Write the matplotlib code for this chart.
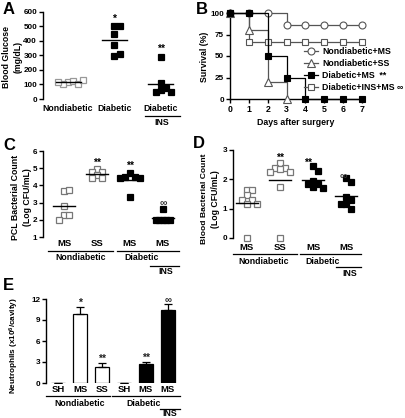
import numpy as np
import matplotlib
matplotlib.use("Agg")
import matplotlib.pyplot as plt
from matplotlib import transforms
from matplotlib.lines import Line2D

plt.rcParams['font.family'] = ['Liberation Sans', 'DejaVu Sans']
plt.rcParams['font.weight'] = 'bold'
plt.rcParams['mathtext.fontset'] = 'custom'
plt.rcParams['mathtext.rm'] = 'Liberation Sans:bold'
plt.rcParams['mathtext.bf'] = 'Liberation Sans:bold'
plt.rcParams['mathtext.it'] = 'Liberation Sans:bold'

# ---------------- data ----------------
# A: blood glucose (mg/dL)
A_groups = ["Nondiabetic", "Diabetic", "Diabetic"]
A_nd = [115, 125, 105, 100, 120, 130]
A_d = [500, 500, 450, 370, 295, 310]
A_ins = [290, 110, 65, 75, 45, 50]

# B: survival (%)
B_days = [0, 1, 2, 3, 4, 5, 6, 7]
B_nd_ms = [100, 100, 100, 85.7, 85.7, 85.7, 85.7, 85.7]
B_nd_ss_days = [0, 1, 2, 3]
B_nd_ss = [100, 80, 20, 0]
B_d_ms = [100, 100, 50, 25, 0, 0, 0, 0]
B_d_ins = [100, 66.7, 66.7, 66.7, 66.7, 66.7, 66.7, 66.7]
B_labels = ["Nondiabetic+MS", "Nondiabetic+SS", "Diabetic+MS  **", "Diabetic+INS+MS \u221e"]

# C: PCL bacterial count (log CFU/mL)
C_ticks = ["MS", "SS", "MS", "MS"]
C_nd_ms = [3.65, 3.75, 2.8, 2.3, 2.3, 2.0]
C_nd_ss = [4.93, 4.8, 4.8, 4.6, 4.42, 4.42]
C_d_ms = [4.75, 4.5, 4.5, 4.45, 4.45, 3.3]
C_ins = [2.6, 2.0, 2.0, 2.0, 2.0, 2.0]

# D: blood bacterial count (log CFU/mL)
D_ticks = ["MS", "SS", "MS", "MS"]
D_nd_ms = [1.65, 1.65, 1.45, 1.3, 1.3, 1.15, 1.15, 0]
D_nd_ss = [2.55, 2.4, 2.4, 2.35, 2.25, 2.25, 1.75, 0]
D_d_ms = [2.45, 2.3, 1.95, 1.85, 1.85, 1.75, 1.7]
D_ins = [2.05, 1.9, 1.4, 1.3, 1.15, 1.15, 1.0]

# E: neutrophils (x10^6/cavity)
E_ticks = ["SH", "MS", "SS", "SH", "MS", "MS"]
E_means = [0.05, 9.8, 2.25, 0.03, 2.75, 10.4]
E_err = [0, 1.1, 0.6, 0, 0.25, 0.9]
E_fill = ["white", "white", "white", "black", "black", "black"]
E_marks = ["", "*", "**", "", "**", "\u221e"]

# ---------------- layout helpers ----------------
W, H = 406, 418
fig = plt.figure(figsize=(W / 100, H / 100), dpi=100)
GRAY = "#777777"
FS = 6.3
TFS = 5.9


def axes_px(l, t, r, b):
    return fig.add_axes([l / W, 1 - b / H, (r - l) / W, (b - t) / H])


def fy(py):
    return 1 - py / H


def style(ax, bottom=False):
    for s in ["top", "right"]:
        ax.spines[s].set_visible(False)
    ax.spines["bottom"].set_visible(bottom)
    ax.spines["left"].set_linewidth(1.0)
    ax.tick_params(axis="y", direction="out", length=3, width=1, labelsize=TFS, pad=1.2)
    if bottom:
        ax.spines["bottom"].set_linewidth(1.0)
        ax.tick_params(axis="x", direction="out", length=3, width=1, labelsize=FS, pad=1.5)
    else:
        ax.set_xticks([])
    for lab in ax.get_yticklabels() + ax.get_xticklabels():
        lab.set_fontweight("bold")


def swarm(ax, x0, vals, thresh):
    """deterministic beeswarm offsets (data units) from value pixel positions"""
    pxx = ax.transData.transform((1, 0))[0] - ax.transData.transform((0, 0))[0]
    placed = []
    xs = []
    cands = [0.0]
    for i in range(1, 12):
        cands += [i * thresh * 0.5, -i * thresh * 0.5]
    for v in vals:
        py = ax.transData.transform((0, v))[1]
        for c in cands:
            ok = True
            for (cx, cy) in placed:
                if abs(cx - c) < thresh and abs(cy - py) < thresh:
                    ok = False
                    break
            if ok:
                placed.append((c, py))
                xs.append(x0 + c / pxx)
                break
    return xs


def dotplot(ax, x0, vals, filled, color, ms=4.2, half=0.27, thresh=5.2):
    xs = swarm(ax, x0, vals, thresh)
    ax.plot(xs, vals, "s", ms=ms, mfc=("black" if filled else "white"),
            mec=("black" if filled else color), mew=0.9, clip_on=False, zorder=3)
    m = np.mean(vals)
    ax.plot([x0 - half, x0 + half], [m, m], color="black", lw=1.0, zorder=4, clip_on=False)


def under(ax, x, py, s, fs=FS):
    tr = transforms.blended_transform_factory(ax.transData, fig.transFigure)
    ax.text(x, fy(py), s, transform=tr, ha="center", va="center", fontsize=fs,
            fontweight="bold")


def hline(ax, x1, x2, py, lw=0.9):
    tr = transforms.blended_transform_factory(ax.transData, fig.transFigure)
    ax.add_line(Line2D([x1, x2], [fy(py), fy(py)], transform=tr, color="black",
                       lw=lw, clip_on=False))


def ylab(px, py, s, fs=FS):
    fig.text(px / W, fy(py), s, rotation=90, ha="center", va="center",
             fontsize=fs, fontweight="bold")


# ---------------- Panel A ----------------
axA = axes_px(43, 12, 185, 99)
axA.set_ylim(0, 600)
axA.set_xlim(-0.54, 2.52)
axA.set_yticks(range(0, 601, 100))
style(axA)
dotplot(axA, 0, A_nd, False, "#999999", thresh=5.0)
dotplot(axA, 1, A_d, True, "black")
dotplot(axA, 2, A_ins, True, "black")
axA.text(1, max(A_d) + 50, "*", ha="center", va="center", fontsize=7.5, fontweight="bold")
axA.text(2, max(A_ins) + 55, "**", ha="center", va="center", fontsize=7.5, fontweight="bold")
for i, g in enumerate(A_groups):
    under(axA, i, 108.5, g)
hline(axA, 1.66, 2.42, 116)
under(axA, 2.02, 122.5, "INS")
ylab(7, 57, "Blood Glucose")
ylab(18, 57, "(mg/dL)")

# ---------------- Panel B ----------------
axB = axes_px(230, 13, 362, 99)
axB.set_xlim(0, 7)
axB.set_ylim(0, 100)
axB.set_yticks([0, 25, 50, 75, 100])
axB.set_xticks(B_days)
style(axB, bottom=True)
lw = 0.9
h1, = axB.step(B_days, B_nd_ms, where="post", color="#555555", lw=lw, clip_on=False,
               marker="o", ms=5, mfc="white", mec="#555555", mew=0.8, zorder=3)
h4, = axB.step(B_days, B_d_ins, where="post", color="#555555", lw=lw, clip_on=False,
               marker="s", ms=5, mfc="white", mec="#555555", mew=0.8, zorder=3)
h2, = axB.step(B_nd_ss_days, B_nd_ss, where="post", color="#555555", lw=lw, clip_on=False,
               marker="^", ms=6, mfc="white", mec="#555555", mew=0.8, zorder=3)
h3, = axB.step(B_days, B_d_ms, where="post", color="black", lw=lw, clip_on=False,
               marker="s", ms=5, mfc="black", mec="black", mew=0.8, zorder=4)
leg = axB.legend([h1, h2, h3, h4], B_labels, loc="upper left",
                 bbox_to_anchor=((304 - 230) / 132, 1 - (47 - 13) / 86),
                 frameon=False, fontsize=FS, handlelength=1.6, handletextpad=0.5,
                 labelspacing=0.35, borderpad=0, borderaxespad=0)
for t in leg.get_texts():
    t.set_fontweight("bold")
axB.set_xlabel("Days after surgery", fontsize=FS, fontweight="bold", labelpad=3)
ylab(205, 57, "Survival (%)")

# ---------------- Panel C ----------------
axC = axes_px(43, 151, 185, 237)
axC.set_ylim(1, 6)
axC.set_xlim(-0.64, 3.67)
axC.set_yticks(range(1, 7))
style(axC)
dotplot(axC, 0, C_nd_ms, False, GRAY, half=0.33)
dotplot(axC, 1, C_nd_ss, False, GRAY, half=0.33)
dotplot(axC, 2, C_d_ms, True, "black", half=0.33)
dotplot(axC, 3, C_ins, True, "black", half=0.33, thresh=3.5)
axC.text(1, 5.3, "**", ha="center", va="center", fontsize=7.5, fontweight="bold")
axC.text(2, 5.15, "**", ha="center", va="center", fontsize=7.5, fontweight="bold")
axC.text(3, 2.95, "\u221e", ha="center", va="center", fontsize=7.5, fontweight="bold", color="#333333")
for i, t in enumerate(C_ticks):
    under(axC, i, 243.5, t, fs=6.8)
hline(axC, -0.48, 1.48, 251)
hline(axC, 1.6, 3.5, 251)
under(axC, 0.5, 258, "Nondiabetic")
under(axC, 2.35, 258, "Diabetic")
hline(axC, 2.6, 3.5, 265.5)
under(axC, 3.1, 272, "INS")
ylab(16, 197, "PCL Bacterial Count")
ylab(28, 197, "(Log CFU/mL)")

# ---------------- Panel D ----------------
axD = axes_px(233, 150, 366, 238)
axD.set_ylim(0, 3)
axD.set_xlim(-0.42, 3.6)
axD.set_yticks(range(0, 4))
style(axD)
dotplot(axD, 0, D_nd_ms, False, GRAY, half=0.33)
dotplot(axD, 1, D_nd_ss, False, GRAY, half=0.33)
dotplot(axD, 2, D_d_ms, True, "black", half=0.33)
dotplot(axD, 3, D_ins, True, "black", half=0.33)
axD.text(1, 2.72, "**", ha="center", va="center", fontsize=7.5, fontweight="bold")
axD.text(1.85, 2.55, "**", ha="center", va="center", fontsize=7.5, fontweight="bold")
axD.text(2.9, 2.12, "\u221e", ha="center", va="center", fontsize=7.5, fontweight="bold", color="#333333")
for i, t in enumerate(D_ticks):
    under(axD, i, 247, t, fs=6.8)
hline(axD, -0.42, 1.5, 253.5)
hline(axD, 1.6, 3.45, 253.5)
under(axD, 0.5, 261, "Nondiabetic")
under(axD, 2.3, 261, "Diabetic")
hline(axD, 2.7, 3.45, 267)
under(axD, 3.1, 273.5, "INS")
ylab(204, 199, "Blood Bacterial Count", fs=6.1)
ylab(216, 199, "(Log CFU/mL)")

# ---------------- Panel E ----------------
axE = axes_px(46, 299, 180, 383)
axE.set_ylim(0, 12)
axE.set_xlim(-0.55, 5.55)
axE.set_yticks([0, 3, 6, 9, 12])
style(axE)
xE = np.arange(len(E_means))
axE.bar(xE, E_means, width=0.64, color=E_fill, edgecolor="black", linewidth=0.9, zorder=2)
axE.errorbar(xE, E_means, yerr=[np.zeros(len(E_err)), E_err], fmt="none",
             ecolor="black", elinewidth=0.9, capsize=3, capthick=0.9, zorder=3)
for i, m in enumerate(E_marks):
    if m:
        axE.text(i, E_means[i] + E_err[i] + 0.55, m, ha="center", va="center",
                 fontsize=7.5 if m != "\u221e" else 7, fontweight="bold", color="#222222")
for i, t in enumerate(E_ticks):
    under(axE, i, 390, t, fs=6.8)
hline(axE, -0.55, 2.35, 395.5)
hline(axE, 2.45, 5.55, 395.5)
under(axE, 1.0, 403, "Nondiabetic")
under(axE, 3.9, 403, "Diabetic")
hline(axE, 4.65, 5.55, 408.5)
under(axE, 5.1, 414, "INS")
ylab(14, 346, "Neutrophils (x10$^{6}$/cavity)", fs=5.9)

# ---------------- panel letters ----------------
for s, px, py in [("A", 3, 10), ("B", 196, 10), ("C", 3, 145), ("D", 193, 144), ("E", 3, 286)]:
    fig.text(px / W, fy(py), s, fontsize=12, fontweight="bold", ha="left", va="center")

fig.savefig("out.png", dpi=100)
